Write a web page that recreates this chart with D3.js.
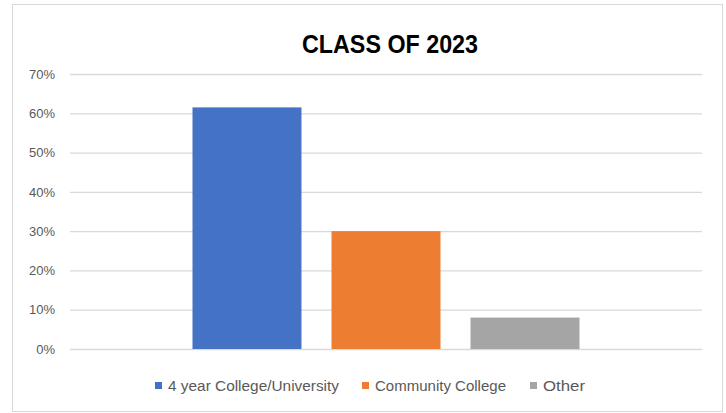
<!DOCTYPE html>
<html>
<head>
<meta charset="utf-8">
<script src="https://cdn.jsdelivr.net/npm/d3@7"></script>
<style>
  body { margin: 0; background: #fff; }
  svg { display: block; }
</style>
</head>
<body>
<svg id="chart"></svg>
<script>
// donnees du graphique
const category = ["Class of 2023"];
const seriesNames = ["4 year College/University", "Community College", "Other"];
const seriesValues = [0.615, 0.30, 0.08];
const seriesColors = ["#4472c4", "#ed7d31", "#a5a5a5"];
const yTicks = [0, 0.1, 0.2, 0.3, 0.4, 0.5, 0.6, 0.7];

const svgWidth = 726, svgHeight = 413;
const margin = { top: 74, right: 24, bottom: 64, left: 70 };
const width = svgWidth - margin.left - margin.right;
const height = 349 - margin.top;

const svg = d3.select("#chart")
    .attr("width", svgWidth)
    .attr("height", svgHeight);

// cadre autour du graphique
svg.append("rect")
    .attr("x", 12.5).attr("y", 4.5)
    .attr("width", 710).attr("height", 407)
    .attr("fill", "#fff")
    .attr("stroke", "#d9d9d9");

svg.append("text")
    .attr("x", 390)
    .attr("y", 53)
    .attr("text-anchor", "middle")
    .attr("font-family", "Liberation Sans, Arial, sans-serif")
    .attr("font-weight", "bold")
    .attr("font-size", 25)
    .attr("textLength", 176)
    .attr("lengthAdjust", "spacingAndGlyphs")
    .attr("fill", "#000")
    .text("CLASS OF 2023");

const g = svg.append("g")
    .attr("transform", "translate(" + margin.left + "," + margin.top + ")");

const x0 = d3.scaleBand()
    .domain(category)
    .range([0, width])
    .paddingInner(0)
    .paddingOuter(0.3165);

const x1 = d3.scaleBand()
    .domain(seriesNames)
    .range([0, x0.bandwidth()])
    .paddingInner(0.216)
    .paddingOuter(0);

const y = d3.scaleLinear()
    .domain([0, 0.7])
    .range([height, 0]);

// grille + etiquettes de l'axe y
const yAxis = g.append("g")
    .call(d3.axisLeft(y)
        .tickValues(yTicks)
        .tickSize(-width)
        .tickPadding(15)
        .tickFormat(d3.format(".0%")));
yAxis.select(".domain").remove();
yAxis.selectAll(".tick line")
    .attr("stroke", "#d9d9d9")
    .attr("stroke-width", 1.3);
yAxis.selectAll(".tick text")
    .attr("fill", "#595959")
    .attr("font-family", "Liberation Sans, Arial, sans-serif")
    .attr("font-size", 13);

// barres
g.append("g")
    .attr("transform", "translate(" + x0(category[0]) + ",0)")
    .selectAll("rect")
    .data(seriesNames)
    .enter().append("rect")
    .attr("x", function(d) { return x1(d); })
    .attr("y", function(d, i) { return y(seriesValues[i]); })
    .attr("width", x1.bandwidth())
    .attr("height", function(d, i) { return height - y(seriesValues[i]); })
    .attr("fill", function(d, i) { return seriesColors[i]; });

// legende
const legendX = [155, 362, 530];
const legendTextW = [171, 131, 42];
const legend = svg.append("g")
    .attr("transform", "translate(0,386)");
const items = legend.selectAll("g")
    .data(seriesNames)
    .enter().append("g")
    .attr("transform", function(d, i) { return "translate(" + legendX[i] + ",0)"; });
items.append("rect")
    .attr("x", 0).attr("y", -4)
    .attr("width", 7).attr("height", 7)
    .attr("fill", function(d, i) { return seriesColors[i]; });
items.append("text")
    .attr("x", 13)
    .attr("y", 0)
    .attr("dy", "0.35em")
    .attr("fill", "#595959")
    .attr("font-family", "Liberation Sans, Arial, sans-serif")
    .attr("font-size", 14)
    .attr("textLength", function(d, i) { return legendTextW[i]; })
    .attr("lengthAdjust", "spacingAndGlyphs")
    .text(function(d) { return d; });
</script>
</body>
</html>
